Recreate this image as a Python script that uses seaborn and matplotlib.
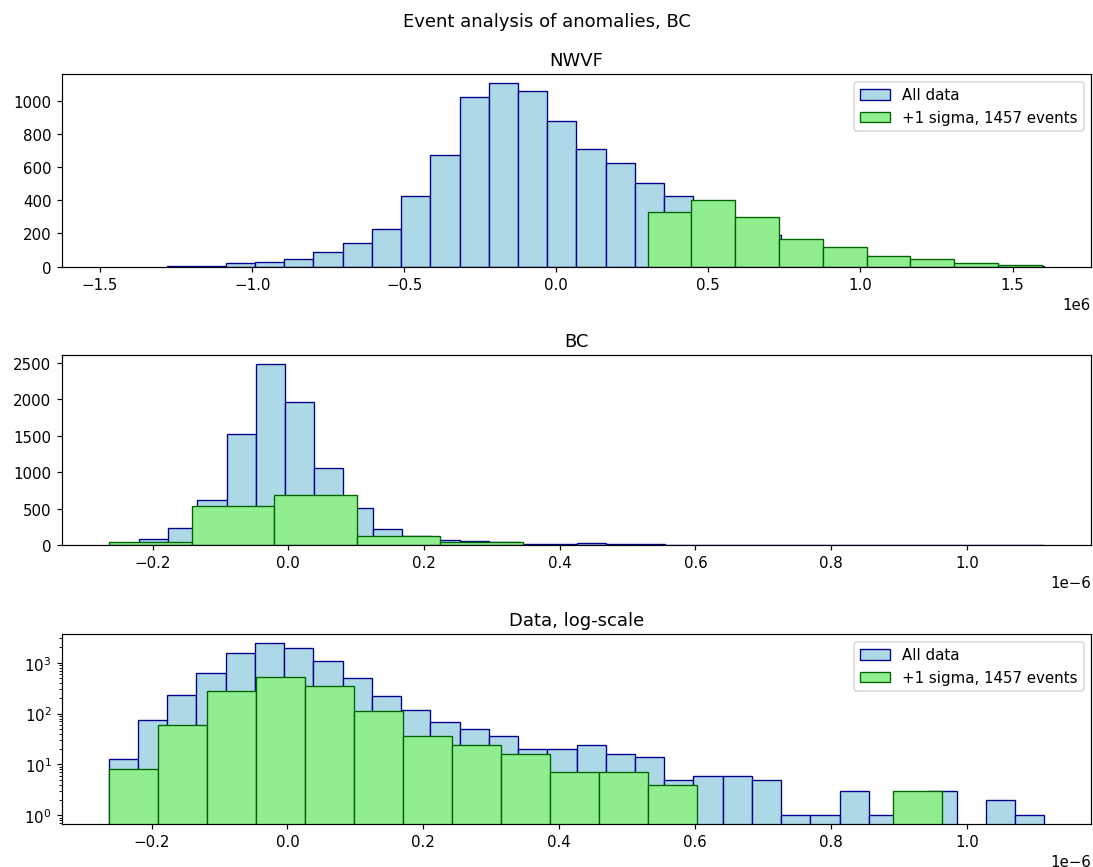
import numpy as np
import pandas as pd
import matplotlib
matplotlib.use("Agg")
import matplotlib.pyplot as plt
import seaborn as sns

# ---------------- data ----------------
suptitle = "Event analysis of anomalies, BC"
titles = ["NWVF", "BC", "Data, log-scale"]
labels = ["All data", "+1 sigma, 1457 events"]

# NWVF, all data: 30 bins
nwvf_all_range = (-1.279e6, 1.604e6)
nwvf_all_counts = [6, 6, 20, 28, 46, 85, 141, 224, 422, 675, 1020, 1105,
                   1058, 879, 711, 626, 505, 422, 317, 234, 190, 125, 103, 64,
                   45, 30, 18, 10, 6, 3]
nwvf_xlim = (-1.625e6, 1.758e6)
# NWVF, +1 sigma events: 9 bins
nwvf_sig_range = (0.300e6, 1.596e6)
nwvf_sig_counts = [327, 398, 297, 165, 119, 62, 44, 20, 8]

# BC, all data: 32 bins
bc_all_range = (-0.263e-6, 1.114e-6)
bc_all_counts = [13, 76, 235, 614, 1525, 2480, 1955, 1060, 510, 225, 119, 69,
                 49, 37, 20, 20, 24, 16, 14, 5, 6, 6, 5, 1, 1, 3, 1, 2, 3, 0,
                 2, 1]
# BC, +1 sigma events (linear panel): 5 bins
bc_sig_coarse_range = (-0.2645e-6, 0.346e-6)
bc_sig_coarse_counts = [45, 531, 683, 128, 45]
# BC, +1 sigma events (log panel): 17 bins
bc_sig_fine_range = (-0.263e-6, 0.964e-6)
bc_sig_fine_counts = [8, 60, 279, 518, 345, 113, 37, 24, 16, 7, 7, 4, 0, 0, 0,
                      0, 3]

# ---------------- styling ----------------
blue_face = "lightblue"
blue_edge = "darkblue"
green_face = "lightgreen"
green_edge = "darkgreen"

DPI = 108
W, H = 1093, 868
fig = plt.figure(figsize=(W / DPI, H / DPI), dpi=DPI)

# axes positions in pixels: (left, top, right, bottom)
boxes = [(62, 75, 1091, 267.5), (62, 356, 1091, 546), (62, 635, 1091, 825)]
axes = []
for (l, t, r, b) in boxes:
    ax = fig.add_axes([l / W, 1 - b / H, (r - l) / W, (b - t) / H])
    axes.append(ax)


def draw_hist(ax, rng, counts, face, edge, label, alpha):
    counts = np.asarray(counts, dtype=float)
    edges = np.linspace(rng[0], rng[1], len(counts) + 1)
    centers = 0.5 * (edges[:-1] + edges[1:])
    df = pd.DataFrame({"value": centers, "count": counts})
    sns.histplot(data=df, x="value", weights="count", bins=list(edges), ax=ax,
                 facecolor=face, edgecolor=edge, linewidth=0.9,
                 alpha=alpha, label=label)


# Top: NWVF
ax = axes[0]
draw_hist(ax, nwvf_all_range, nwvf_all_counts, blue_face, blue_edge, labels[0], 0.9)
draw_hist(ax, nwvf_sig_range, nwvf_sig_counts, green_face, green_edge, labels[1], 0.9)
ax.set_xlim(*nwvf_xlim)
ax.set_title(titles[0], fontsize=12)
ax.legend(loc="upper right", fontsize=10)

# Middle: BC
ax = axes[1]
draw_hist(ax, bc_all_range, bc_all_counts, blue_face, blue_edge, labels[0], 0.9)
draw_hist(ax, bc_sig_coarse_range, bc_sig_coarse_counts, green_face, green_edge, labels[1], 0.9)
ax.set_title(titles[1], fontsize=12)

# Bottom: log-scale
ax = axes[2]
draw_hist(ax, bc_all_range, bc_all_counts, blue_face, blue_edge, labels[0], 0.9)
draw_hist(ax, bc_sig_fine_range, bc_sig_fine_counts, green_face, green_edge, labels[1], 0.9)
ax.set_yscale("log")
ax.set_title(titles[2], fontsize=12)
ax.legend(loc="upper right", fontsize=10)

for ax in axes:
    ax.set_ylabel("")
    ax.set_xlabel("")
    ax.tick_params(labelsize=10)

fig.suptitle(suptitle, fontsize=12, y=0.985)
fig.savefig("out.png", dpi=DPI)
